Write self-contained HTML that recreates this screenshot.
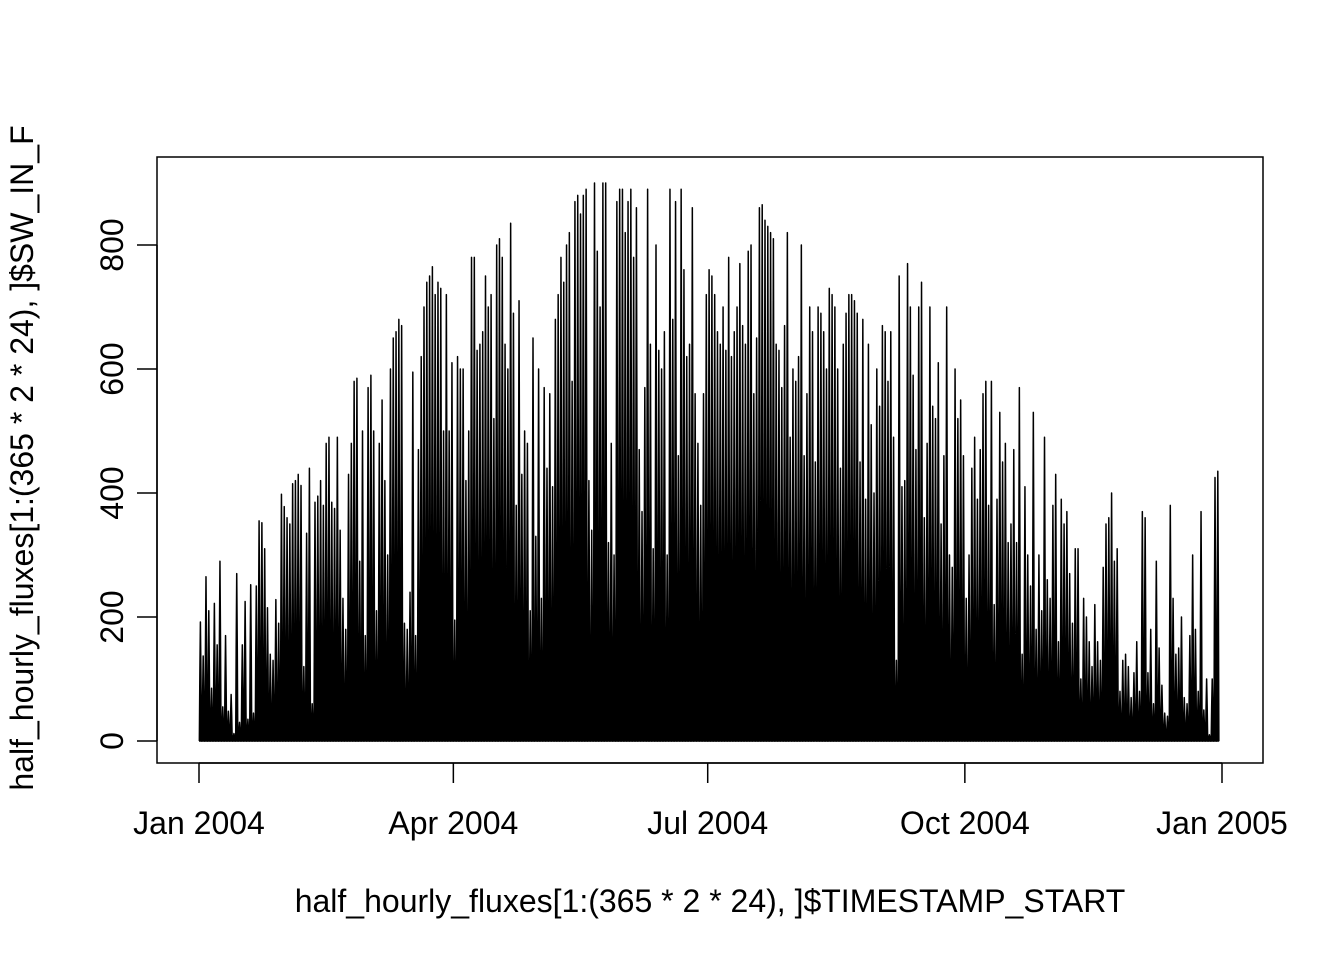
<!DOCTYPE html>
<html><head><meta charset="utf-8"><style>
body{margin:0;background:#fff;}
svg text{font-family:"Liberation Sans",Arial,sans-serif;font-size:32px;fill:#000;}
</style></head><body>
<svg id="chart" width="1344" height="960" viewBox="0 0 1344 960" xmlns="http://www.w3.org/2000/svg">
<rect x="157" y="157" width="1106" height="606" fill="none" stroke="#000" stroke-width="1.5"/>
<g id="series"></g>
<g id="xaxis"></g>
<g id="yaxis"></g>
<text x="710" y="912" text-anchor="middle">half_hourly_fluxes[1:(365 * 2 * 24), ]$TIMESTAMP_START</text>
<text transform="translate(33,458) rotate(-90)" text-anchor="middle">half_hourly_fluxes[1:(365 * 2 * 24), ]$SW_IN_F</text>
</svg>
<script>
const dailyPeaks = [
192,137,265,210,85,222,155,290,55,170,48,75,12,270,30,155,225,35,252,45,250,355,352,310,215,140,130,228,190,398,378,
360,350,415,420,430,412,120,335,440,60,385,395,420,380,480,490,385,375,490,340,230,180,430,480,580,585,290,500,170,
570,590,500,210,480,550,420,300,600,650,660,680,670,190,180,240,595,170,470,620,700,740,750,765,720,740,730,500,720,500,610,
195,620,600,600,420,500,780,780,630,640,660,750,700,720,520,800,810,780,640,600,835,690,380,710,430,500,480,210,650,330,
600,230,570,440,560,410,680,720,780,740,800,820,580,870,880,850,880,890,420,340,900,790,700,900,900,320,480,300,870,890,890,
820,870,890,780,860,470,370,570,890,640,310,800,630,600,660,300,890,680,870,460,890,760,620,640,860,560,480,380,560,720,
760,750,720,660,640,700,630,780,620,660,700,770,670,640,790,800,560,650,860,865,840,830,820,810,640,630,570,670,820,490,600,
580,620,800,460,560,700,660,450,700,690,660,600,730,720,700,600,440,640,690,720,720,710,690,450,680,390,640,510,400,600,540,
670,660,580,660,490,130,750,410,420,770,700,590,470,700,740,360,480,700,540,520,610,350,460,700,300,280,600,520,550,460,
230,300,440,490,390,470,560,580,380,580,220,390,530,450,480,320,350,470,320,570,140,410,300,250,530,180,300,210,490,260,230,
380,430,160,390,350,370,270,190,310,310,100,230,200,160,120,220,160,130,280,350,360,400,290,310,80,130,140,120,70,110,
160,80,370,360,110,180,60,290,150,90,45,40,380,230,140,150,200,70,60,170,300,180,80,370,50,100,10,100,425,435];
const xTickDays = [0,91,182,274,366];
const xTickLabels = ["Jan 2004","Apr 2004","Jul 2004","Oct 2004","Jan 2005"];
const yTicks = [0,200,400,600,800];

const NS="http://www.w3.org/2000/svg";
const xScale = d => 199 + (1222-199)*d/366;
const yScale = v => 741 - (741-245)*v/800;

let pts=[];
dailyPeaks.forEach((v,i)=>{
  pts.push([xScale(i+0.12),yScale(0)],[xScale(i+0.3),yScale(v*0.55)],[xScale(i+0.5),yScale(v)],[xScale(i+0.7),yScale(v*0.55)],[xScale(i+0.88),yScale(0)]);
});
const series=document.getElementById('series');
const pl=document.createElementNS(NS,'polyline');


pl.setAttribute('points',pts.map(p=>p[0].toFixed(2)+','+p[1].toFixed(2)).join(' '));
pl.setAttribute('fill','#000');
pl.setAttribute('stroke','#000');
pl.setAttribute('stroke-width','1.5');
pl.setAttribute('stroke-linejoin','round');
series.appendChild(pl);
const base=document.createElementNS(NS,'line');


base.setAttribute('x1',xScale(0));base.setAttribute('x2',xScale(365));
base.setAttribute('y1',yScale(0));base.setAttribute('y2',yScale(0));
base.setAttribute('stroke','#000');base.setAttribute('stroke-width','1.5');
series.appendChild(base);

const xa=document.getElementById('xaxis');
function mk(tag,attrs,parent){const e=document.createElementNS(NS,tag);for(const k in attrs)e.setAttribute(k,attrs[k]);parent.appendChild(e);return e;}
const xl=mk('line',{x1:xScale(xTickDays[0]),x2:xScale(xTickDays[xTickDays.length-1]),y1:763,y2:763,stroke:'#000','stroke-width':1.5},xa);


xTickDays.forEach((d,i)=>{
  const t=mk('line',{x1:xScale(d),x2:xScale(d),y1:763,y2:783,stroke:'#000','stroke-width':1.5},xa);
  
  
  const tx=mk('text',{x:xScale(d),y:834,'text-anchor':'middle'},xa);
  
  
  tx.textContent=xTickLabels[i];
});
const ya=document.getElementById('yaxis');
const yl=mk('line',{x1:157,x2:157,y1:yScale(yTicks[0]),y2:yScale(yTicks[yTicks.length-1]),stroke:'#000','stroke-width':1.5},ya);


yTicks.forEach(v=>{
  const t=mk('line',{x1:137,x2:157,y1:yScale(v),y2:yScale(v),stroke:'#000','stroke-width':1.5},ya);
  
  
  const tx=mk('text',{transform:`translate(123,${yScale(v)}) rotate(-90)`,'text-anchor':'middle'},ya);
  
  
  tx.textContent=v;
});
</script>
</body></html>
